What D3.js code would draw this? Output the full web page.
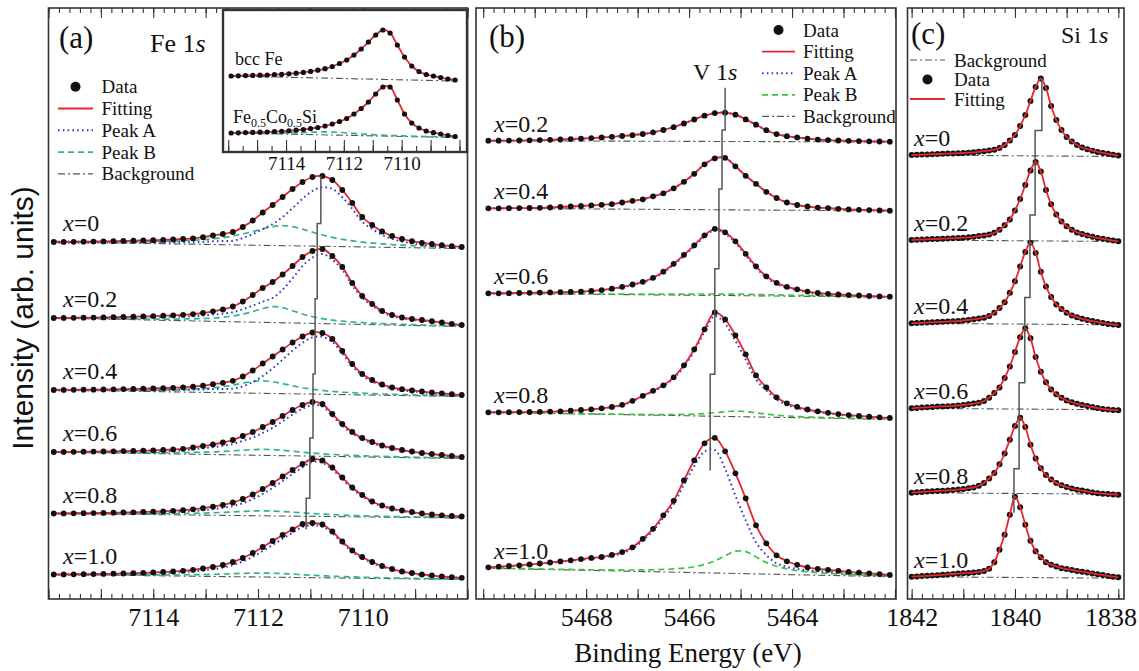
<!DOCTYPE html>
<html>
<head>
<meta charset="utf-8">
<script src="https://cdn.jsdelivr.net/npm/d3@7"></script>
<style>
  body { margin: 0; background: #fff; }
  text { font-family: "Liberation Serif", "Times New Roman", "DejaVu Serif", serif; fill: #111; }
</style>
</head>
<body>
<svg id="chart" width="1139" height="671"></svg>
<script>
// ---------------- data (intensities in arb. units) ----------------
const compLabels = ["0", "0.2", "0.4", "0.6", "0.8", "1.0"];
const vLabels = ["0.2", "0.4", "0.6", "0.8", "1.0"];

// (a) Fe 1s, energy grid 7115.9 eV downward in 0.19 eV steps
const feStart = 7115.9, feStep = 0.19;
const feSpectra = [
  [0,0.1,0.2,0.3,0.4,0.6,0.8,1.0,1.3,1.5,1.8,2.1,2.5,3.0,3.6,4.8,6.5,8,10,15,21.5,29.5,37,45,53,60,65,66,62,52,39,25,17,10.5,6,3,0.8,-0.8,-2,-3.2,-4.2,-5],
  [0,0.1,0.2,0.3,0.4,0.6,0.8,1.0,1.3,1.6,1.9,2.3,2.7,3.2,3.9,5,6.7,8.5,11.5,16.5,23,30,36,43.5,52,61,67,69,62,51,35,22,14,7,3,0.5,-1,-2,-3.2,-4.5,-5.8,-7],
  [0,0.1,0.2,0.3,0.35,0.5,0.7,0.9,1.1,1.3,1.6,1.9,2.2,2.7,3.3,4.3,5.8,7.2,9.2,13.5,19.5,26.5,33.5,40.5,47.5,53.5,57.5,57,51,39,26,16,10,5.5,2.5,0.8,-0.5,-1.5,-2.5,-3.3,-4.2,-5],
  [0,0.1,0.2,0.3,0.4,0.5,0.7,0.9,1.1,1.3,1.6,2,2.5,3.2,4.5,6,7.5,9.5,12,16,20,25,30,36,42,47,50,48,38,28,20,14,10,6.5,4,2,0.5,-1,-2,-3,-4,-5],
  [0,0.1,0.2,0.3,0.4,0.6,0.8,1,1.2,1.5,1.8,2.2,2.7,3.3,4.2,5.3,6.8,8.6,11,14.5,19,24.5,30.5,37,43.5,49.5,54.5,53,46,36,26,18.5,12,8,5,3,1.5,0,-1,-1.8,-2.5,-3],
  [0,0.1,0.2,0.3,0.4,0.6,0.8,1,1.3,1.6,2,2.5,3,3.7,4.7,6,7.5,9.5,12.5,16.5,21.5,27.5,33.5,39.5,45,50.5,51.5,50,43,33,24,17.5,12.5,8.5,5.5,3,1.5,0,-1,-2,-2.7,-3.3]
];
const feOffsets = [357, 281, 209, 147, 85.5, 24.5];
const feBackground = [[0,-6.5],[0,-8.5],[0,-6.5],[0,-6.5],[0,-4.5],[0,-5]];
// peak B: [centre eV, height, half width eV]
const fePeakB = [[7111.52,20,0.85],[7111.67,16,0.6],[7111.9,12.5,0.75],[7111.85,6,0.9],[7111.85,5,1.0],[7111.85,4,1.1]];
const fePeakPos = [7110.80, 7110.87, 7110.91, 7110.95, 7111.01, 7111.08];

// inset: bcc Fe and Fe0.5Co0.5Si, grid 7115.9 eV downward in 0.25 eV steps
const insetStart = 7115.9, insetStep = 0.25;
const insetSpectra = [
  [0,0.2,0.4,0.6,0.8,1,1.3,1.7,2.2,2.8,3.6,4.6,5.8,7.3,9.5,12.5,16,21,27,34,41,46,43,31,19,10,4.5,1.5,0,-1.5,-3,-4],
  [0,0.2,0.4,0.6,0.8,1,1.3,1.7,2.2,2.8,3.5,4.4,5.5,7,9,11.5,14.5,19,24.5,31,39,46,46,33,19,10,5,2,0.3,-1,-2.5,-3.5]
];
const insetOffsets = [76, 19];
const insetBackground = [[0,-5],[0,-4.5]];
const insetPeakB = [null, [7112.5,3,1.2]];

// (b) V 1s, grid 5469.9 eV downward in 0.2 eV steps
const vStart = 5469.9, vStep = 0.2;
const vSpectra = [
  [0,0,0.1,0.2,0.4,0.6,0.9,1.2,1.6,2.1,2.6,3.2,3.9,4.7,5.5,6.7,8.4,10.7,13.5,17.2,21.2,25,27.6,28,26,21.3,16,10.5,6.6,4.5,3.2,2,1.1,0.6,0.2,-0.1,-0.4,-0.6,-0.8,-1],
  [0,0,0.1,0.2,0.3,0.5,0.8,1.3,1.8,2.3,2.9,3.5,4.2,5.8,7.5,9,12,15,20,26.5,34.5,44,50,50.5,42,32.5,24.5,16.5,10.3,5.8,3.3,1.8,0.7,0.2,-0.5,-1.1,-1.5,-1.8,-2.1,-2.4],
  [0,0,0.1,0.3,0.5,0.7,0.9,1.1,1.4,1.7,2.4,3.2,4.6,6.5,8.8,11.5,15.5,21.6,29.5,38.5,48,58,64.5,61,52,39.5,27,17,10.5,6.5,4,1.7,0.3,-0.5,-1.2,-1.8,-2.2,-2.7,-3.1,-3.4],
  [0,0,0.1,0.2,0.3,0.5,0.7,1.0,1.6,2.3,3,4,5.4,7.5,11.5,16.5,21.5,27,35,47,63,83,100,93,77,58,37,25,15,9,5.5,2.8,1,-0.5,-1.8,-2.8,-3.6,-4.4,-5,-5.6],
  [1,1.6,2.3,3,3.8,4.8,5.8,6.9,8,9.2,10.4,11.3,13.4,16.2,21,29.5,39.5,53,67.5,88,108,125,130.5,117,95,70,43,25,13,7,3.5,1,-0.5,-1.5,-2.5,-3.6,-4.3,-5,-5.8,-6.6]
];
const vOffsets = [458.3, 390.7, 305.7, 186.7, 30.7];
const vBackground = [[0,-1.3],[0,-2.6],[0,-3.8],[0,-7],[0,-8.4]];
const vPeakB = [null, null, [5465.2,1.5,1.5], [5465.05,5.5,0.6], [5465.01,23,0.52]];
const vPeakPos = [5465.30, 5465.36, 5465.42, 5465.50, 5465.59];

// (c) Si 1s, grid 1842.0 eV downward in 0.1 eV steps
const siStart = 1842.0, siStep = 0.1;
const siSpectra = [
  [0,0.2,0.4,0.6,0.8,1.0,1.2,1.4,1.6,1.8,2.0,2.3,2.7,3.2,3.8,4.5,5.3,7,10,14.5,20,29,40,54,68,76.5,67,49,35,25,18,13.5,10,7.5,5.8,4.3,3.1,2.1,1.2,0.3,-0.6],
  [0,0.3,0.5,0.7,0.9,1.1,1.3,1.5,1.7,2.0,2.3,2.7,3.2,3.9,4.6,5.4,7.2,10.2,14.8,20.5,29.5,41,55,69.5,78,68.5,50,35.7,25.5,18.4,13.8,10.2,7.6,5.9,4.4,3.2,2.1,1.2,0.3,-0.6,-1.2],
  [0,0.25,0.5,0.75,1.0,1.25,1.5,1.75,2.0,2.4,2.8,3.4,4.0,4.7,5.6,7.4,10.5,15.2,21,30.5,42,56.7,71.4,80.5,70.4,51.5,36.8,26.3,18.9,14.2,10.5,7.9,6.1,4.5,3.3,2.2,1.3,0.3,-0.6,-1.2,-1.6],
  [0,0.35,0.7,1.0,1.4,1.7,1.9,2.1,2.4,2.8,3.3,4.0,4.7,5.5,7.3,10.5,15.2,20.9,30.3,41.8,56.4,71,80,70,51.2,36.6,26.1,18.8,14.1,10.5,7.8,6.1,4.5,3.2,2.2,1.3,0.3,-0.6,-1.2,-1.6,-2],
  [0,0.4,0.8,1.1,1.4,1.7,2.0,2.3,2.6,3.1,3.7,4.4,5.2,6.9,9.8,14.2,19.6,28.4,39.2,52.9,66.6,75,65.7,48,34.3,24.5,17.6,13.2,9.8,7.4,5.7,4.2,3.0,2.1,1.2,0.3,-0.5,-1,-1.4,-1.7,-2],
  [0,0.3,0.6,0.9,1.2,1.5,1.9,2.3,2.7,3.1,3.5,3.8,4.2,4.8,5.8,8,14.5,27,42,62,80,69.5,52,36,25.5,19.5,14.5,12,10.3,8.5,7.6,6.8,5.8,5,4.2,3.3,2.4,1.6,0.8,0,-0.6]
];
const siOffsets = [444, 359, 275.7, 190.7, 106.3, 22.3];
const siBackground = [[0,-1.5],[0,-1.5],[0,-1.5],[0,-1.5],[0,-1.5],[0,-1.5]];
const siPeakPos = [1839.48, 1839.61, 1839.71, 1839.81, 1839.92, 1840.02];

const feTicks = [7114, 7112, 7110];
const vTicks = [5468, 5466, 5464];
const siTicks = [1842, 1840, 1838];

// ---------------- drawing ----------------
const svg = d3.select("#chart");
const SERIF = "Liberation Serif, Times New Roman, DejaVu Serif, serif";
const W = 1139;
const yTop = 8, yBot = 599;
const C = { fit: "#e3282c", a: "#3535c8", bTeal: "#2eb58c", bGreen: "#3cc43c", bg: "#555", dot: "#111" };

const energies = (start, step, n) => d3.range(n).map(i => start - i * step);
const lorentz = (e, p) => { const u = (e - p[0]) / p[2]; return p[1] / (1 + u * u); };

function ticks(g, x, yPos, dir, step, minorLen, majorLen) {
  const [lo, hi] = d3.extent(x.domain());
  const minor = d3.range(Math.ceil(lo / step - 1e-6), Math.floor(hi / step + 1e-6) + 1).map(k => +(k * step).toFixed(3));
  const major = minor.filter(v => Math.abs(v - Math.round(v)) < 1e-6);
  const axis = dir === "bottom" ? d3.axisBottom : d3.axisTop;
  [[minor, minorLen], [major, majorLen]].forEach(([vals, len]) => {
    g.append("g").attr("transform", `translate(0,${yPos})`)
      .call(axis(x).tickValues(vals).tickSize(-len).tickFormat(""))
      .call(s => s.select(".domain").remove())
      .selectAll("line").attr("stroke", "#333").attr("stroke-width", 1.1);
  });
}

function tickLabels(g, x, yPos, vals, size, pad) {
  g.append("g").attr("transform", `translate(0,${yPos})`)
    .call(d3.axisBottom(x).tickValues(vals).tickSize(0).tickPadding(pad).tickFormat(d3.format("d")))
    .call(s => s.select(".domain").remove())
    .attr("font-family", SERIF).attr("font-size", size)
    .selectAll("text").attr("fill", "#111")
    .each(function () {
      // keep the outermost label inside the picture
      const r = this.getBoundingClientRect();
      if (r.right > W - 2) d3.select(this).attr("dx", W - 2 - r.right);
    });
}

function spectra(g, x, y, o) {
  o.data.forEach((vals, i) => {
    const E = energies(o.start, o.step, vals.length);
    const off = o.offsets[i];
    const bgv = o.bg[i];
    const pb = o.peakB ? o.peakB[i] : null;
    const pts = E.map((e, j) => ({
      e, v: vals[j],
      bg: bgv[0] + (bgv[1] - bgv[0]) * j / (vals.length - 1),
      b: pb ? lorentz(e, pb) : 0
    }));
    const line = d3.line().x(d => x(d.e)).curve(d3.curveCatmullRom);

    g.append("path").attr("d", line.y(d => y(off + d.bg))([pts[0], pts[pts.length - 1]]))
      .attr("fill", "none").attr("stroke", C.bg).attr("stroke-width", 1.1).attr("stroke-dasharray", "7,3,2,3");
    if (pb) {
      g.append("path").attr("d", line.y(d => y(off + d.bg + d.b))(pts))
        .attr("fill", "none").attr("stroke", o.bColor).attr("stroke-width", 1.7).attr("stroke-dasharray", "6,4");
    }
    if (o.showA) {
      g.append("path").attr("d", line.y(d => y(off + d.v - d.b))(pts))
        .attr("fill", "none").attr("stroke", C.a).attr("stroke-width", 2).attr("stroke-dasharray", "1.6,3.2");
    }
    const fit = () => g.append("path").attr("d", line.y(d => y(off + d.v))(pts))
      .attr("fill", "none").attr("stroke", C.fit).attr("stroke-width", 1.8);
    if (!o.fitOnTop) fit();
    g.append("g").selectAll("circle").data(pts).join("circle")
      .attr("cx", d => x(d.e)).attr("cy", d => y(off + d.v)).attr("r", o.dotR).attr("fill", C.dot);
    if (o.fitOnTop) fit();
  });

  // step line through the peak positions
  if (o.peakPos) {
    const tops = o.data.map((vals, i) => y(o.offsets[i] + d3.max(vals)));
    const bases = o.offsets.map(v => y(v));
    let d = `M${x(o.peakPos[0])},${tops[0] - o.stepTop}`;
    o.peakPos.forEach((p, i) => {
      const end = i < o.peakPos.length - 1
        ? tops[i] + o.stepFrac * (bases[i] - tops[i])
        : tops[i] + o.stepEnd * (bases[i] - tops[i]);
      d += `V${end}`;
      if (i < o.peakPos.length - 1) d += `H${x(o.peakPos[i + 1])}`;
    });
    g.append("path").attr("d", d).attr("fill", "none").attr("stroke", "#555").attr("stroke-width", 1.5);
  }

  // composition labels
  if (o.labels) {
    o.labels.forEach((lab, i) => {
      const t = g.append("text").attr("x", o.labelX).attr("y", y(o.offsets[i]) + o.labelDy)
        .attr("font-size", 24);
      t.append("tspan").attr("font-style", "italic").text("x");
      t.append("tspan").text("=" + lab);
    });
  }
}

function legend(g, items, x0, x1, textX, yStart, dy, size) {
  items.forEach((it, i) => {
    const yy = yStart + i * dy;
    if (it.type === "dot") {
      g.append("circle").attr("cx", (x0 + x1) / 2).attr("cy", yy).attr("r", 5).attr("fill", C.dot);
    } else {
      g.append("line").attr("x1", x0).attr("x2", x1).attr("y1", yy).attr("y2", yy)
        .attr("stroke", it.color).attr("stroke-width", it.w || 1.6)
        .attr("stroke-dasharray", it.dash || null);
    }
    g.append("text").attr("x", textX).attr("y", yy + 6.5).attr("font-size", size).text(it.name);
  });
}

function frame(g, x0, x1, y0, y1, w) {
  g.append("rect").attr("x", x0).attr("y", y0).attr("width", x1 - x0).attr("height", y1 - y0)
    .attr("fill", "none").attr("stroke", "#333").attr("stroke-width", w);
}

const y = d3.scaleLinear().domain([0, 591]).range([yBot, yTop]);

// ---------- panel (a) ----------
const ga = svg.append("g");
const xa = d3.scaleLinear().domain([7116, 7108]).range([48.5, 467.5]);
ticks(ga, xa, yBot, "bottom", 0.2, 5, 10);
ticks(ga, xa, yTop, "top", 0.2, 5, 10);
tickLabels(ga, xa, yBot, feTicks, 26, 9);
spectra(ga, xa, y, {
  data: feSpectra, start: feStart, step: feStep, offsets: feOffsets, bg: feBackground,
  peakB: fePeakB, bColor: C.bTeal, showA: true, dotR: 2.9, fitOnTop: false,
  peakPos: fePeakPos, stepTop: 0, stepFrac: 0.72, stepEnd: 0.12,
  labels: compLabels, labelX: 63, labelDy: -11
});
frame(ga, 48.5, 467.5, yTop, yBot, 1.6);

// inset
const gi = svg.append("g");
gi.append("rect").attr("x", 223).attr("y", 10).attr("width", 244).attr("height", 142).attr("fill", "#fff");
const xi = d3.scaleLinear().domain([7116.18, 7107.74]).range([223, 467]);
const yi = d3.scaleLinear().domain([0, 142]).range([152, 10]);
ticks(gi, xi, 152, "bottom", 0.5, 6, 12);
tickLabels(gi, xi, 152, feTicks, 19, 5);
spectra(gi, xi, yi, {
  data: insetSpectra, start: insetStart, step: insetStep, offsets: insetOffsets, bg: insetBackground,
  peakB: insetPeakB, bColor: C.bTeal, showA: false, dotR: 2.6, fitOnTop: false
});
frame(gi, 223, 467, 10, 152, 2.4);
gi.append("text").attr("x", 235).attr("y", 65).attr("font-size", 18).text("bcc Fe");
const fcs = gi.append("text").attr("x", 233).attr("y", 123).attr("font-size", 18);
fcs.append("tspan").text("Fe");
fcs.append("tspan").attr("font-size", 12).attr("dy", 4).text("0.5");
fcs.append("tspan").attr("dy", -4).text("Co");
fcs.append("tspan").attr("font-size", 12).attr("dy", 4).text("0.5");
fcs.append("tspan").attr("dy", -4).text("Si");

ga.append("text").attr("x", 59).attr("y", 48).attr("font-size", 31).text("(a)");
const fe1s = ga.append("text").attr("x", 150).attr("y", 52).attr("font-size", 26);
fe1s.append("tspan").text("Fe 1");
fe1s.append("tspan").attr("font-style", "italic").text("s");
legend(ga, [
  { type: "dot", name: "Data" },
  { name: "Fitting", color: C.fit, w: 1.8 },
  { name: "Peak A", color: C.a, w: 2, dash: "1.6,3.2" },
  { name: "Peak B", color: C.bTeal, w: 1.7, dash: "6,4" },
  { name: "Background", color: C.bg, w: 1.1, dash: "7,3,2,3" }
], 58, 93, 101.5, 86.7, 21.8, 19);

// ---------- panel (b) ----------
const gb = svg.append("g");
const xb = d3.scaleLinear().domain([5470.14, 5461.98]).range([476, 896]);
ticks(gb, xb, yBot, "bottom", 0.2, 5, 10);
ticks(gb, xb, yTop, "top", 0.2, 5, 10);
tickLabels(gb, xb, yBot, vTicks, 26, 9);
spectra(gb, xb, y, {
  data: vSpectra, start: vStart, step: vStep, offsets: vOffsets, bg: vBackground,
  peakB: vPeakB, bColor: C.bGreen, showA: true, dotR: 2.9, fitOnTop: false,
  peakPos: vPeakPos, stepTop: 25, stepFrac: 0.62, stepEnd: 0.25,
  labels: vLabels, labelX: 494, labelDy: -9
});
frame(gb, 476, 896, yTop, yBot, 1.6);
gb.append("text").attr("x", 489).attr("y", 47).attr("font-size", 31).text("(b)");
const v1s = gb.append("text").attr("x", 693).attr("y", 80).attr("font-size", 24);
v1s.append("tspan").text("V 1");
v1s.append("tspan").attr("font-style", "italic").text("s");
legend(gb, [
  { type: "dot", name: "Data" },
  { name: "Fitting", color: C.fit, w: 1.8 },
  { name: "Peak A", color: C.a, w: 2, dash: "1.6,3.2" },
  { name: "Peak B", color: C.bGreen, w: 1.7, dash: "6,4" },
  { name: "Background", color: C.bg, w: 1.1, dash: "7,3,2,3" }
], 762, 795, 803, 30, 21.6, 19);

// ---------- panel (c) ----------
const gc = svg.append("g");
const xc = d3.scaleLinear().domain([1842.08, 1837.89]).range([907.5, 1124]);
ticks(gc, xc, yBot, "bottom", 0.2, 5, 10);
ticks(gc, xc, yTop, "top", 0.2, 5, 10);
tickLabels(gc, xc, yBot, siTicks, 26, 9);
spectra(gc, xc, y, {
  data: siSpectra, start: siStart, step: siStep, offsets: siOffsets, bg: siBackground,
  peakB: null, showA: false, dotR: 3.0, fitOnTop: true,
  peakPos: siPeakPos, stepTop: 0, stepFrac: 0.68, stepEnd: 0.2,
  labels: compLabels, labelX: 914, labelDy: -9
});
frame(gc, 907.5, 1124, yTop, yBot, 1.6);
gc.append("text").attr("x", 911).attr("y", 44).attr("font-size", 31).text("(c)");
const si1s = gc.append("text").attr("x", 1061).attr("y", 43).attr("font-size", 24);
si1s.append("tspan").text("Si 1");
si1s.append("tspan").attr("font-style", "italic").text("s");
legend(gc, [
  { name: "Background", color: C.bg, w: 1.1, dash: "7,3,2,3" },
  { type: "dot", name: "Data" },
  { name: "Fitting", color: C.fit, w: 1.8 }
], 910, 945, 954, 60, 19.5, 19);

// ---------- axis titles ----------
svg.append("text").attr("transform", "translate(33,318) rotate(-90)")
  .attr("text-anchor", "middle").attr("font-size", 30)
  .style("font-family", "Liberation Sans, Arial, sans-serif").text("Intensity (arb. units)");
svg.append("text").attr("x", 688).attr("y", 662).attr("text-anchor", "middle")
  .attr("font-size", 27).text("Binding Energy (eV)");
</script>
</body>
</html>
